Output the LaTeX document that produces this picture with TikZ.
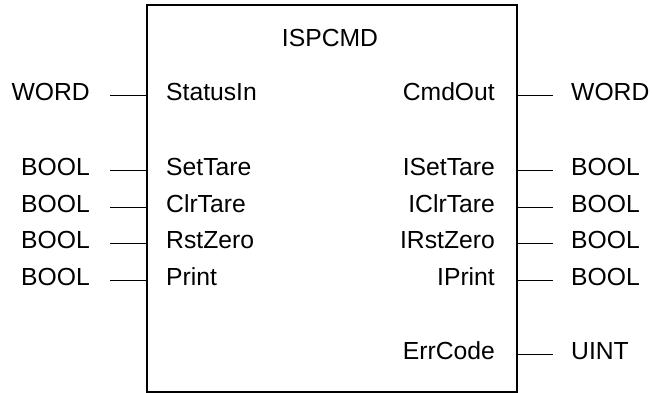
\documentclass[tikz,border=0pt]{standalone}
\usepackage{fontspec}
\setmainfont{Liberation Sans}
\begin{document}
\begin{tikzpicture}[x=1pt,y=-1pt,
  every node/.style={font=\fontsize{24.7}{29}\selectfont, inner sep=0pt},
  blockbox/.style={draw, line width=1.6pt, minimum width=370pt, minimum height=387pt, anchor=north west, inner sep=0pt},
  outerleft/.style={anchor=base east},
  outerright/.style={anchor=base west},
  innerleft/.style={anchor=base west},
  innerright/.style={anchor=base east},
  stub/.style={line width=1pt}]
\useasboundingbox (0,0) rectangle (652,392);
\node[blockbox] (box) at (146,4) {};
\node[anchor=base] (title) at (330,46.5) {ISPCMD};
% inputs
\foreach \n/\lab/\typ/\y in {sin/StatusIn/WORD/95.5, st/SetTare/BOOL/170.5, ct/ClrTare/BOOL/207.5, rz/RstZero/BOOL/243.5, pr/Print/BOOL/280.5}{
  \node[innerleft] (in-\n) at (166,\y+5.3) {\lab};
  \node[outerleft] (t-\n) at (90,\y+5.3) {\typ};
  \coordinate (a-\n) at (box.west |- 0,\y);
  \coordinate (b-\n) at (110,\y);
  \draw[stub] (a-\n) -- (b-\n);
}
% outputs
\foreach \n/\lab/\typ/\y in {co/CmdOut/WORD/95.5, ist/ISetTare/BOOL/170.5, ict/IClrTare/BOOL/207.5, irz/IRstZero/BOOL/243.5, ipr/IPrint/BOOL/280.5, ec/ErrCode/UINT/354.5}{
  \node[innerright] (out-\n) at (495,\y+5.3) {\lab};
  \node[outerright] (u-\n) at (571,\y+5.3) {\typ};
  \coordinate (c-\n) at (box.east |- 0,\y);
  \coordinate (d-\n) at (553,\y);
  \draw[stub] (c-\n) -- (d-\n);
}
\end{tikzpicture}
\end{document}
